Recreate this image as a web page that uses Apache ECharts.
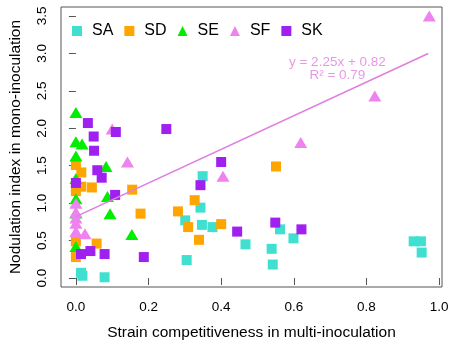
<!DOCTYPE html>
<html>
<head>
<meta charset="utf-8">
<script src="https://cdn.jsdelivr.net/npm/echarts@6/dist/echarts.min.js"></script>
<style>
    html, body { margin: 0; padding: 0; background: #fff; }
    #main { width: 459px; height: 346px; }
</style>
</head>
<body>
<div id="main"></div>
<script>
// values, per strain: x = competitiveness, y = nodulation index
var saX = [0.014, 0.018, 0.079, 0.305, 0.301, 0.343, 0.347, 0.349, 0.376, 0.467, 0.539, 0.542, 0.562, 0.599, 0.930, 0.950, 0.952];
var saY = [0.07, 0.03, 0.01, 0.24, 0.77, 0.94, 0.71, 1.36, 0.68, 0.45, 0.39, 0.18, 0.65, 0.53, 0.49, 0.49, 0.34];

var sdX = [0.000, 0.015, 0.000, 0.015, 0.044, 0.000, 0.155, 0.327, 0.178, 0.281, 0.309, 0.400, 0.339, 0.000, 0.057, 0.000, 0.551];
var sdY = [1.51, 1.41, 1.22, 1.22, 1.21, 1.16, 1.18, 1.04, 0.86, 0.89, 0.68, 0.72, 0.51, 0.49, 0.46, 0.28, 1.49];

var seX = [0.000, 0.000, 0.017, 0.000, 0.083, 0.000, 0.087, 0.000, 0.000, 0.094, 0.154, 0.000];
var seY = [2.21, 1.82, 1.79, 1.63, 1.49, 1.33, 1.09, 1.06, 0.87, 0.86, 0.58, 0.42];

var sfX = [0.973, 0.823, 0.619, 0.405, 0.142, 0.100, 0.000, 0.000, 0.000, 0.000, 0.000, 0.025];
var sfY = [3.50, 2.43, 1.81, 1.36, 1.55, 1.99, 1.00, 0.88, 0.80, 0.73, 0.62, 0.59];

var skX = [0.033, 0.049, 0.050, 0.110, 0.249, 0.400, 0.059, 0.071, 0.343, 0.108, 0.000, 0.444, 0.549, 0.621, 0.014, 0.040, 0.079, 0.187];
var skY = [2.07, 1.89, 1.70, 1.95, 1.99, 1.55, 1.44, 1.34, 1.24, 1.11, 1.27, 0.62, 0.74, 0.65, 0.32, 0.36, 0.32, 0.28];

// fitted line y = 2.25x + 0.82, drawn over the data range
var fitX = [0, 0.97];
var fitY = [0.82, 3.00];
var fitText = ['y = 2.25x + 0.82', 'R\u00b2 = 0.79'];

var xTicks = [0, 0.2, 0.4, 0.6, 0.8, 1.0];
var yTicks = [0, 0.5, 1.0, 1.5, 2.0, 2.5, 3.0, 3.5];

var strains = ['SA', 'SD', 'SE', 'SF', 'SK'];
var colors = ['#40E0D0', '#FFA500', '#00EE00', '#EE82EE', '#A020F0'];
var FONT = 'Liberation Sans, Arial, sans-serif';

function pairs(xs, ys) {
    var out = [];
    for (var i = 0; i < xs.length; i++) {
        out.push([xs[i], ys[i]]);
    }
    return out;
}

function pointSeries(name, xs, ys, idx) {
    var tri = (name === 'SE' || name === 'SF');
    return {
        name: name,
        type: 'scatter',
        symbol: tri ? 'triangle' : 'rect',
        symbolSize: tri ? [13, 11] : 10,
        itemStyle: { color: colors[idx], opacity: 1 },
        data: pairs(xs, ys),
        z: 2 + idx
    };
}

var myChart = echarts.init(document.getElementById('main'));

var option = {
    animation: false,
    textStyle: { fontFamily: FONT },
    grid: {
        left: 59, right: 17, top: 7, bottom: 59,
        show: true,
        borderColor: '#555',
        borderWidth: 1
    },
    legend: {
        data: [
            { name: 'SA', icon: 'rect' },
            { name: 'SD', icon: 'rect' },
            { name: 'SE', icon: 'triangle' },
            { name: 'SF', icon: 'triangle' },
            { name: 'SK', icon: 'rect' }
        ],
        left: 67,
        top: 18,
        itemWidth: 10,
        itemHeight: 10,
        itemGap: 11,
        textStyle: { fontSize: 16, color: '#000', fontFamily: FONT, padding: [0, 0, 0, 5] }
    },
    xAxis: {
        type: 'value',
        min: -0.041,
        max: 1.008,
        name: 'Strain competitiveness in multi-inoculation',
        nameLocation: 'middle',
        nameGap: 38,
        nameTextStyle: { fontSize: 15.5, color: '#000', fontFamily: FONT },
        axisLine: { show: false },
        axisTick: { show: true, length: 7, inside: false, customValues: xTicks, lineStyle: { color: '#555' } },
        axisLabel: {
            customValues: xTicks,
            margin: 13,
            fontSize: 13.5,
            color: '#000',
            fontFamily: FONT,
            formatter: function (v) { return v.toFixed(1); }
        },
        splitLine: { show: false }
    },
    yAxis: {
        type: 'value',
        min: -0.12,
        max: 3.62,
        name: 'Nodulation index in mono-inoculation',
        nameLocation: 'middle',
        nameGap: 37,
        nameRotate: 90,
        nameTextStyle: { fontSize: 15.5, color: '#000', fontFamily: FONT },
        axisLine: { show: false },
        axisTick: { show: true, length: 7, inside: false, customValues: yTicks, lineStyle: { color: '#555' } },
        axisLabel: {
            customValues: yTicks,
            rotate: 90,
            margin: 12,
            fontSize: 13.5,
            color: '#000',
            fontFamily: FONT,
            formatter: function (v) { return v.toFixed(1); }
        },
        splitLine: { show: false }
    },
    series: [
        pointSeries('SA', saX, saY, 0),
        pointSeries('SD', sdX, sdY, 1),
        pointSeries('SE', seX, seY, 2),
        pointSeries('SF', sfX, sfY, 3),
        pointSeries('SK', skX, skY, 4),
        {
            name: 'fit',
            type: 'line',
            data: pairs(fitX, fitY),
            symbol: 'none',
            lineStyle: { color: '#E07EE0', width: 1.6 },
            z: 10
        },
        {
            name: 'fitLabel',
            type: 'scatter',
            symbolSize: 0,
            data: [[0.72, 2.80]],
            silent: true,
            label: {
                show: true,
                position: 'inside',
                formatter: fitText.join('\n'),
                fontSize: 13.5,
                lineHeight: 13,
                color: '#E07EE0',
                fontFamily: FONT,
                align: 'center'
            },
            z: 11
        }
    ]
};

myChart.setOption(option);
</script>
</body>
</html>
